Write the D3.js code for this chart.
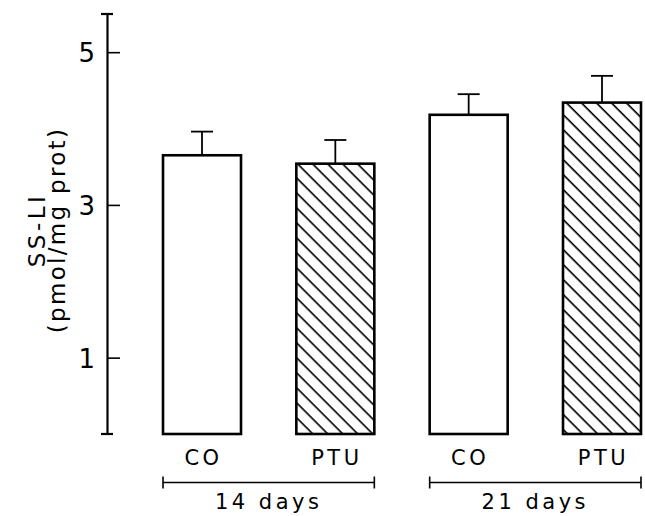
<!DOCTYPE html>
<html>
<head>
<meta charset="utf-8">
<script src="https://cdn.jsdelivr.net/npm/d3@7"></script>
<style>
  html, body { margin: 0; padding: 0; background: #fff; }
  svg { display: block; }
  text { font-family: "DejaVu Sans", sans-serif; fill: #000; }
</style>
</head>
<body>
<svg id="chart" width="645" height="516"></svg>
<script>
// SS-LI content per treatment group (mean and SEM)
const barIds     = ["co14", "ptu14", "co21", "ptu21"];
const barLabels  = ["CO", "PTU", "CO", "PTU"];
const treated    = [false, true, false, true];
const means      = [3.65, 3.54, 4.18, 4.34];
const sems       = [0.31, 0.31, 0.27, 0.35];
const groupNames = ["14 days", "21 days"];
const groupBars  = [["co14", "ptu14"], ["co21", "ptu21"]];
const yTicks     = [1, 3, 5];
const yMax       = 5.5;

const svg = d3.select("#chart");

const x = d3.scaleBand()
  .domain(barIds)
  .range([163, 641])
  .paddingInner(0.415)
  .paddingOuter(0);

const y = d3.scaleLinear()
  .domain([0, yMax])
  .range([434, 14]);

const axisX = 107;

// hatch fill for the PTU bars
const defs = svg.append("defs");
const pat = defs.append("pattern")
  .attr("id", "hatch")
  .attr("patternUnits", "userSpaceOnUse")
  .attr("width", 10.6)
  .attr("height", 10.6)
  .attr("patternTransform", "rotate(45)");
pat.append("rect").attr("width", 10.6).attr("height", 10.6).attr("fill", "#fff");
pat.append("line")
  .attr("x1", 0).attr("y1", 0).attr("x2", 10.6).attr("y2", 0)
  .attr("stroke", "#000").attr("stroke-width", 3.2);

// y axis with inward ticks
const yAxis = d3.axisLeft(y)
  .tickValues(yTicks)
  .tickSizeInner(-13)
  .tickSizeOuter(0)
  .tickPadding(12)
  .tickFormat(d3.format("d"));

const gy = svg.append("g")
  .attr("transform", `translate(${axisX},0)`)
  .call(yAxis);
gy.select(".domain").attr("stroke", "#000").attr("stroke-width", 2.2);
gy.selectAll(".tick line").attr("stroke", "#000").attr("stroke-width", 1.6);
gy.selectAll(".tick text")
  .attr("font-size", 26)
  .attr("dy", "0.36em")
  .style("font-family", "DejaVu Sans, sans-serif");

// end caps on the axis
[0, yMax].forEach(v => {
  svg.append("line")
    .attr("x1", axisX - 6).attr("x2", axisX + 6)
    .attr("y1", y(v)).attr("y2", y(v))
    .attr("stroke", "#000").attr("stroke-width", 2.2);
});

// axis title
const title = svg.append("text")
  .attr("transform", "translate(45,230) rotate(-90)")
  .attr("text-anchor", "middle")
  .attr("font-size", 23)
  .attr("letter-spacing", 2.3);
title.append("tspan").attr("x", 0).attr("dy", 0).attr("letter-spacing", 3.5).text("SS-LI");
title.append("tspan").attr("x", 0).attr("dy", 20).text("(pmol/mg prot)");

// error bars (upper whisker only)
const bars = barIds.map((id, i) => ({ id, label: barLabels[i], treated: treated[i], mean: means[i], sem: sems[i] }));

const err = svg.append("g").attr("stroke", "#000").attr("stroke-width", 1.8);
bars.forEach(d => {
  const cx = x(d.id) + x.bandwidth() / 2;
  err.append("line")
    .attr("x1", cx).attr("x2", cx)
    .attr("y1", y(d.mean)).attr("y2", y(d.mean + d.sem));
  err.append("line")
    .attr("x1", cx - 11).attr("x2", cx + 11)
    .attr("y1", y(d.mean + d.sem)).attr("y2", y(d.mean + d.sem));
});

// bars
svg.append("g").selectAll("rect")
  .data(bars)
  .join("rect")
  .attr("x", d => x(d.id))
  .attr("y", d => y(d.mean))
  .attr("width", x.bandwidth())
  .attr("height", d => y(0) - y(d.mean))
  .attr("fill", d => d.treated ? "url(#hatch)" : "#fff")
  .attr("stroke", "#000")
  .attr("stroke-width", 2.6);

// treatment labels
svg.append("g").selectAll("text")
  .data(bars)
  .join("text")
  .attr("x", d => x(d.id) + x.bandwidth() / 2 + 1.5)
  .attr("y", 465)
  .attr("text-anchor", "middle")
  .attr("font-size", 21)
  .attr("letter-spacing", 3.5)
  .text(d => d.label);

// time-point brackets
const bracketY = 482.5;
groupNames.forEach((name, gi) => {
  const [a, b] = groupBars[gi];
  const x0 = x(a), x1 = x(b) + x.bandwidth();
  const g = svg.append("g").attr("stroke", "#000").attr("stroke-width", 1.6);
  g.append("line").attr("x1", x0).attr("x2", x1).attr("y1", bracketY).attr("y2", bracketY);
  g.append("line").attr("x1", x0).attr("x2", x0).attr("y1", bracketY - 6).attr("y2", bracketY + 6);
  g.append("line").attr("x1", x1).attr("x2", x1).attr("y1", bracketY - 6).attr("y2", bracketY + 6);
  svg.append("text")
    .attr("x", (x0 + x1) / 2)
    .attr("y", 509)
    .attr("text-anchor", "middle")
    .attr("font-size", 21)
    .attr("letter-spacing", 3.5)
    .text(name);
});
</script>
</body>
</html>
